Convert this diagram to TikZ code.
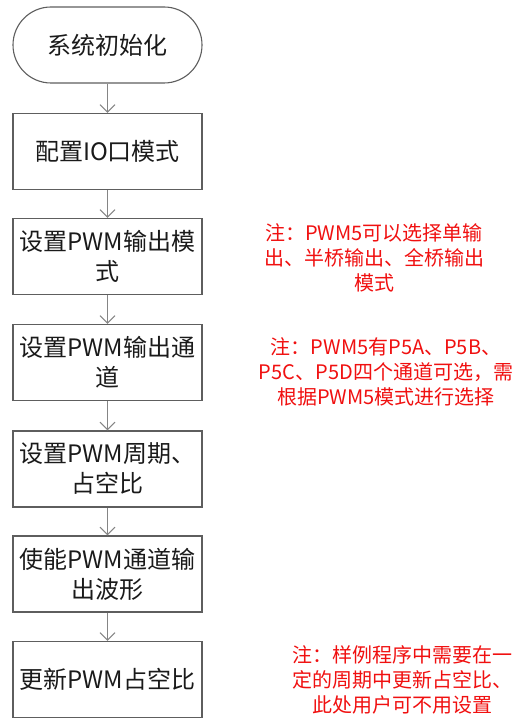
\documentclass[tikz,border=0pt]{standalone}
\usepackage{fontspec}
\setmainfont{Noto Sans CJK SC}
\usetikzlibrary{arrows.meta}
\definecolor{bordc}{HTML}{5E5E5E}
\definecolor{arrc}{HTML}{858585}
\definecolor{txtc}{HTML}{1A1A1A}
\definecolor{notec}{HTML}{F01010}
\tikzset{
  stepbox/.style={draw=bordc, line width=1.1pt, minimum width=189pt, minimum height=76pt,
    inner sep=0pt, align=center, text=txtc, font=\fontsize{24}{30}\selectfont},
  termbox/.style={stepbox, rounded corners=38pt},
  flow/.style={draw=arrc, line width=1.1pt, -{Straight Barb[length=7.5pt,width=15pt,line width=1.1pt]}},
  notetext/.style={align=center, text=notec, inner sep=0pt, font=\fontsize{20}{25}\selectfont}
}
\begin{document}
\begin{tikzpicture}[x=1pt,y=-1pt]
\useasboundingbox (0,0) rectangle (521,722);
\node[termbox] (s0) at (107.5,45) {系统初始化};
\node[stepbox] (s1) at (107.5,151.5) {配置IO口模式};
\node[stepbox] (s2) at (107.5,256.5) {设置PWM输出模\\式};
\node[stepbox] (s3) at (107.5,362.5) {设置PWM输出通\\道};
\node[stepbox] (s4) at (107.5,469) {设置PWM周期、\\占空比};
\node[stepbox] (s5) at (107.5,574) {使能PWM通道输\\出波形};
\node[stepbox] (s6) at (107.5,679.5) {更新PWM占空比};
\draw[flow] (s0) -- (s1);
\draw[flow] (s1) -- (s2);
\draw[flow] (s2) -- (s3);
\draw[flow] (s3) -- (s4);
\draw[flow] (s4) -- (s5);
\draw[flow] (s5) -- (s6);
\node[notetext] (n1) at (374,258) {注：PWM5可以选择单输\\出、半桥输出、全桥输出\\模式};
\node[notetext] (n2) at (386,372) {注：PWM5有P5A、P5B、\\P5C、P5D四个通道可选，需\\根据PWM5模式进行选择};
\node[notetext] (n3) at (402,680) {注：样例程序中需要在一\\定的周期中更新占空比、\\此处用户可不用设置};
\end{tikzpicture}
\end{document}
